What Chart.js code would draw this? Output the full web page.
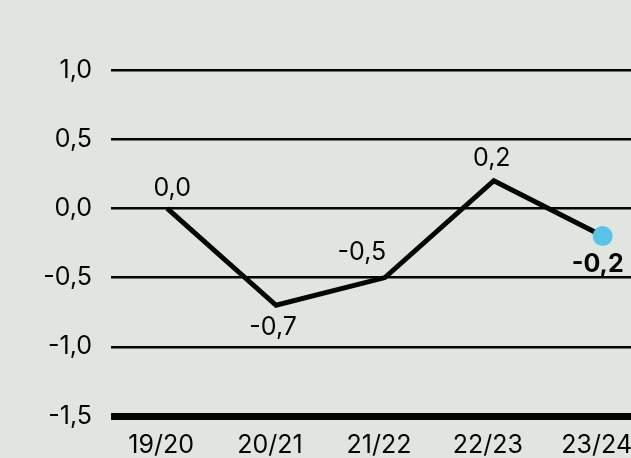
<!DOCTYPE html>
<html>
<head>
<meta charset="utf-8">
<script src="https://cdn.jsdelivr.net/npm/chart.js@4.4.1/dist/chart.umd.min.js"></script>
<style>
  html, body { margin: 0; padding: 0; width: 631px; height: 458px; overflow: hidden; background: #e1e5e0; }
  #wrap { position: absolute; left: 0; top: 0; width: 700px; height: 458px; }
</style>
</head>
<body>
<div id="wrap"><canvas id="c"></canvas></div>
<script>
const categories = ['19/20', '20/21', '21/22', '22/23', '23/24'];
const values = [0.0, -0.7, -0.5, 0.2, -0.2];
const yTicks = [-1.5, -1.0, -0.5, 0.0, 0.5, 1.0];

const FONT = 'Inter, "Liberation Sans", Arial, sans-serif';
const INK = '#050505';
const BLUE = '#5bc3e8';
const FS = 25;

const fmt = v => v.toFixed(1).replace('.', ',');

const labelPlugin = {
  id: 'pointLabels',
  afterDatasetsDraw(chart, args, opts) {
    const ctx = chart.ctx;
    const meta = chart.getDatasetMeta(0);
    ctx.save();
    ctx.textAlign = 'center';
    ctx.textBaseline = 'middle';
    ctx.fillStyle = INK;
    meta.data.forEach((pt, i) => {
      const last = i === values.length - 1;
      ctx.font = (last ? 'bold ' : '') + FS + 'px ' + FONT;
      const o = opts.offsets[i];
      ctx.fillText(fmt(values[i]), pt.x + o[0], pt.y + o[1]);
    });
    ctx.restore();
  }
};

new Chart(document.getElementById('c'), {
  type: 'line',
  data: {
    datasets: [{
      data: values.map((v, i) => ({ x: i, y: v })),
      borderColor: INK,
      borderWidth: 5,
      tension: 0,
      fill: false,
      pointRadius: values.map((v, i) => i === values.length - 1 ? 10 : 0),
      pointHoverRadius: values.map((v, i) => i === values.length - 1 ? 10 : 0),
      pointBackgroundColor: BLUE,
      pointBorderWidth: 0,
      clip: false
    }]
  },
  options: {
    responsive: true,
    maintainAspectRatio: false,
    animation: false,
    events: [],
    layout: { padding: { top: 70, right: 0, left: 0, bottom: 0 } },
    plugins: {
      legend: { display: false },
      tooltip: { enabled: false },
      pointLabels: { offsets: [[5, -20], [-3, 22], [-23, -25], [-2, -22], [-5, 28]] }
    },
    scales: {
      x: {
        type: 'linear',
        min: -0.516,
        max: 4.802,
        afterBuildTicks: s => { s.ticks = categories.map((c, i) => ({ value: i })); },
        afterFit: s => { s.height = 42; },
        grid: { display: false, drawTicks: false },
        border: { display: false },
        ticks: {
          autoSkip: false,
          maxRotation: 0,
          padding: 14,
          labelOffset: -6,
          color: INK,
          font: { family: FONT, size: FS },
          callback: v => categories[v]
        }
      },
      y: {
        min: -1.5,
        max: 1.0,
        afterBuildTicks: s => { s.ticks = yTicks.map(v => ({ value: v })); },
        afterFit: s => { s.width = 111; },
        grid: {
          color: INK,
          drawTicks: false,
          lineWidth: c => (c.tick && c.tick.value === -1.5) ? 7 : 2.6
        },
        border: { display: false },
        ticks: {
          padding: 19,
          color: INK,
          font: { family: FONT, size: FS },
          callback: v => fmt(v)
        }
      }
    }
  },
  plugins: [labelPlugin]
});
</script>
</body>
</html>
